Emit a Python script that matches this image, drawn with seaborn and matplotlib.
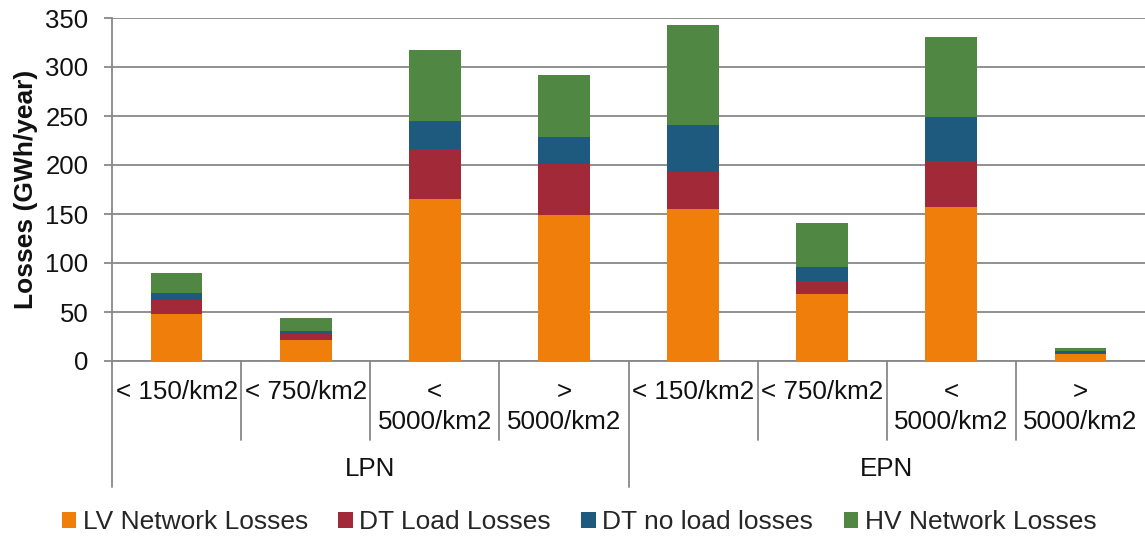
import matplotlib
matplotlib.use("Agg")
import matplotlib.pyplot as plt
import matplotlib.transforms as mtransforms
from matplotlib.patches import Patch
import seaborn as sns
import pandas as pd
import numpy as np

# ---------------- data ----------------
groups = ["LPN", "EPN"]
densities = ["< 150/km2", "< 750/km2", "<\n5000/km2", ">\n5000/km2"]
series_names = ["LV Network Losses", "DT Load Losses", "DT no load losses", "HV Network Losses"]
lv_losses = [48, 21, 165.5, 148.5, 155, 68.5, 157.5, 7]
dt_load_losses = [14, 7, 51, 52.5, 37.5, 13, 46.5, 1.5]
dt_noload_losses = [7.5, 2.5, 28.5, 28, 48, 14, 44.5, 1.5]
hv_losses = [20, 13, 72.5, 62.5, 102, 45, 82, 3]
y_ticks = [0, 50, 100, 150, 200, 250, 300, 350]
colors = ["#EF7F0A", "#A22937", "#1E5A7E", "#508843"]

# ---------------- build frame ----------------
keys = [f"{g}|{d}" for g in groups for d in densities]
df = pd.DataFrame({"key": keys, "LV": lv_losses, "DTL": dt_load_losses,
                   "DTNL": dt_noload_losses, "HV": hv_losses})
df["c1"] = df["LV"]
df["c2"] = df["c1"] + df["DTL"]
df["c3"] = df["c2"] + df["DTNL"]
df["c4"] = df["c3"] + df["HV"]

sns.set_style("white")
plt.rcParams["font.family"] = ["Liberation Sans", "DejaVu Sans"]

fig = plt.figure(figsize=(11.45, 5.38), dpi=100)
ax = fig.add_axes([112 / 1145, 1 - 361 / 538, 1 - 112 / 1145, (361 - 18) / 538])

grid_col = "#888888"
for col, c in zip(["c4", "c3", "c2", "c1"], colors[::-1]):
    sns.barplot(data=df, x="key", y=col, order=keys, color=c, saturation=1,
                width=0.4, errorbar=None, ax=ax, linewidth=0, zorder=3)

ax.set_ylim(0, 350)
ax.set_xlim(-0.5, 7.5)
ax.set_yticks(y_ticks)
ax.set_yticklabels([str(t) for t in y_ticks], fontsize=18.5, color="#111111")
ax.yaxis.grid(True, color=grid_col, linewidth=1.3)
ax.set_axisbelow(True)
ax.set_xticks([])
ax.set_xlabel("")
for s in ["top", "right"]:
    ax.spines[s].set_visible(False)
for s in ["left", "bottom"]:
    ax.spines[s].set_color(grid_col)
    ax.spines[s].set_linewidth(1.3)
ax.tick_params(axis="y", which="major", left=True, length=6, width=1.3,
               color=grid_col, pad=11)
ax.set_ylabel("Losses (GWh/year)", fontsize=19, fontweight="bold", color="#111111")
ax.yaxis.set_label_coords(-0.072, 0.5)

# ---------------- multi-level category axis ----------------
trans = mtransforms.blended_transform_factory(ax.transData, fig.transFigure)
y_axis = 1 - 361 / 538
y_inner = 1 - 440 / 538
y_outer = 1 - 487 / 538
n = len(keys)
for i in range(n):
    xb = i - 0.5
    yb = y_outer if i % len(densities) == 0 else y_inner
    ax.plot([xb, xb], [y_axis, yb], transform=trans, color=grid_col,
            linewidth=1.3, clip_on=False)

cat_fs = 18.7
y_line1 = 1 - 392 / 538
y_line2 = 1 - 422 / 538
for i, k in enumerate(keys):
    lab = densities[i % len(densities)]
    parts = lab.split("\n")
    ax.text(i, y_line1, parts[0], transform=trans, ha="center", va="center",
            fontsize=cat_fs, color="#111111")
    if len(parts) > 1:
        ax.text(i, y_line2, parts[1], transform=trans, ha="center", va="center",
                fontsize=cat_fs, color="#111111")

y_grp = 1 - 469 / 538
for gi, g in enumerate(groups):
    xc = gi * len(densities) + (len(densities) - 1) / 2
    ax.text(xc, y_grp, g, transform=trans, ha="center", va="center",
            fontsize=cat_fs, color="#111111")

# ---------------- legend ----------------
handles = [Patch(facecolor=c, edgecolor="none", label=l) for c, l in zip(colors, series_names)]
fig.legend(handles=handles, loc="center", bbox_to_anchor=(579 / 1145, 1 - 522 / 538),
           ncol=4, frameon=False, fontsize=19, handlelength=0.55, handleheight=0.55,
           handletextpad=0.25, columnspacing=1.15, borderaxespad=0, borderpad=0)

fig.savefig("out.png", dpi=100)
